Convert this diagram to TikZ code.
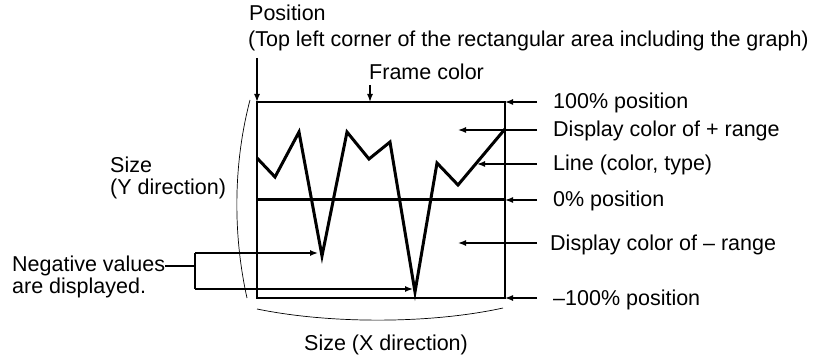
\documentclass[tikz,border=0pt]{standalone}
\usepackage{fontspec}
\setmainfont{Liberation Sans}
\usetikzlibrary{arrows.meta}
\begin{document}
\begin{tikzpicture}[x=1pt,y=-1pt,
 lbl/.style={anchor=base west,inner sep=0pt,font=\fontsize{21.5}{21.5}\selectfont},
 arr/.style={line width=1.4pt,-{Latex[length=8pt,width=6pt]}},
 plain/.style={line width=1.4pt},
 thinarc/.style={line width=0.7pt},
 frm/.style={line width=2pt},
 zero/.style={line width=3pt},
 graph/.style={line width=3pt,line join=miter}]
\useasboundingbox (0,0) rectangle (824,358);
% frame corners
\coordinate (TL) at (257,102);
\coordinate (BR) at (505,298);
\coordinate (TR) at (505,102);
\coordinate (BL) at (257,298);
\coordinate (Z0) at (257,200);
\coordinate (Z1) at (505,200);
\draw[frm] (TL) rectangle (BR);
\draw[zero] (Z0) -- (Z1);
% graph line
\coordinate (p0) at (257,158);
\coordinate (p1) at (275,177);
\coordinate (p2) at (299,132);
\coordinate (p3) at (322,256);
\coordinate (p4) at (347,132);
\coordinate (p5) at (369,159);
\coordinate (p6) at (390,142);
\coordinate (p7) at (415,292);
\coordinate (p8) at (437,163);
\coordinate (p9) at (458,185);
\coordinate (p10) at (505,129);
\draw[graph] (p0) -- (p1) -- (p2) -- (p3) -- (p4) -- (p5) -- (p6) -- (p7) -- (p8) -- (p9) -- (p10);
% texts
\node[lbl] (pos) at (249,21) {Position};
\node[lbl] (tlc) at (248,47) {(Top left corner of the rectangular area including the graph)};
\node[lbl] (fc) at (369,80) {Frame color};
\node[lbl] (sy1) at (110,173) {Size};
\node[lbl] (sy2) at (110,194) {(Y direction)};
\node[lbl] (neg1) at (12,271) {Negative values};
\node[lbl] (neg2) at (12,293) {are displayed.};
\node[lbl] (sx) at (304,350) {Size (X direction)};
\node[lbl] (t100) at (553,109) {100\% position};
\node[lbl] (tplus) at (553,137) {Display color of + range};
\node[lbl] (tline) at (553,171) {Line (color, type)};
\node[lbl] (t0) at (553,207) {0\% position};
\node[lbl] (tminus) at (550,250) {Display color of – range};
\node[lbl] (tm100) at (553,305) {–100\% position};
% top arrows
\coordinate (posstart) at (257,58);
\draw[arr] (posstart) -- (TL);
\coordinate (fcstart) at (370,85);
\draw[arr] (fcstart) -- (fcstart |- TL);
% right arrows
\coordinate (e100) at (537,102);
\coordinate (eplus) at (537,130);
\coordinate (eline) at (537,164);
\coordinate (e0) at (537,200);
\coordinate (eminus) at (537,243);
\coordinate (em100) at (537,298);
\coordinate (aplus) at (458,130);
\coordinate (aline) at (477,164);
\coordinate (aminus) at (458,243);
\draw[arr] (e100) -- (TR);
\draw[arr] (eplus) -- (aplus);
\draw[arr] (eline) -- (aline);
\draw[arr] (e0) -- (Z1);
\draw[arr] (eminus) -- (aminus);
\draw[arr] (em100) -- (BR);
% negative values bracket
\coordinate (bk) at (195,266);
\coordinate (bktop) at (195,253);
\coordinate (bkbot) at (195,289);
\coordinate (v1) at (318,253);
\coordinate (v2) at (413,289);
\draw[plain] (bk -| neg1.east) -- (bk);
\draw[plain] (bktop) -- (bkbot);
\draw[arr] (bktop) -- (v1);
\draw[arr] (bkbot) -- (v2);
% size arcs
\coordinate (ya) at (250,100);
\coordinate (yb) at (247,298);
\draw[thinarc] (ya) .. controls (233,165) and (233,235) .. (yb);
\coordinate (xa) at (257,309);
\coordinate (xb) at (503,308);
\draw[thinarc] (xa) .. controls (330,324) and (430,324) .. (xb);
\end{tikzpicture}
\end{document}
